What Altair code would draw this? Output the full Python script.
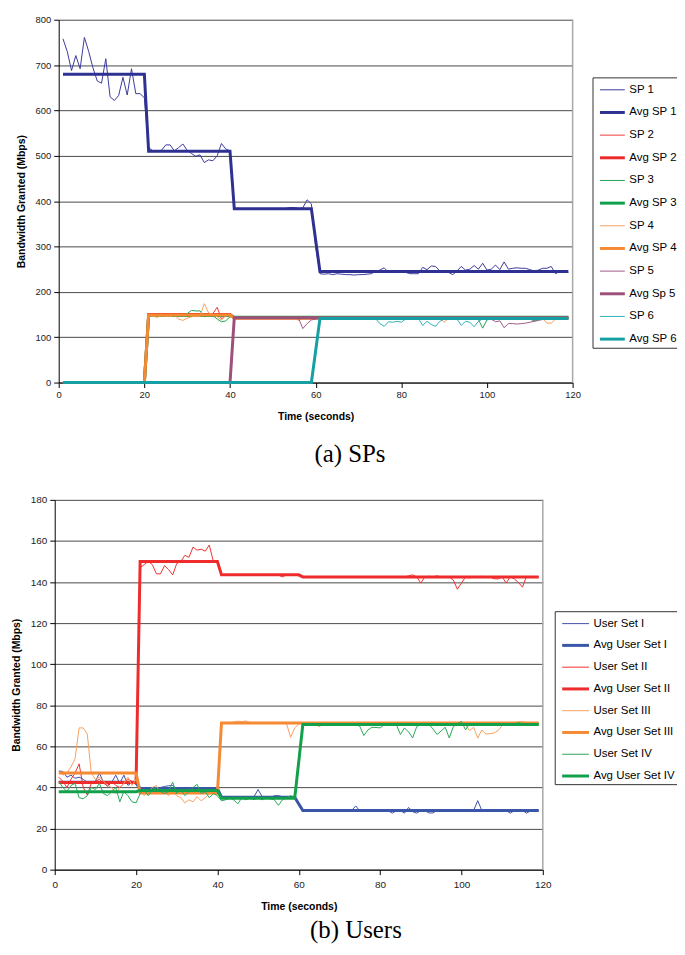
import altair as alt
import pandas as pd

t = list(range(1, 120))

# ---------------- Panel (a): SPs ----------------
top_names = ["SP 1", "Avg SP 1", "SP 2", "Avg SP 2", "SP 3", "Avg SP 3",
             "SP 4", "Avg SP 4", "SP 5", "Avg Sp 5", "SP 6", "Avg SP 6"]
top_colors = ["#3a3a9c", "#2e3192", "#ee3a3a", "#ee2a2a", "#22a055", "#0e9f4a",
              "#f7a060", "#f58a32", "#a05a86", "#9e4f7b", "#30b0b8", "#16a0a4"]
top_widths = [1, 3, 1, 3, 1, 3, 1, 3, 1, 3, 1, 3]

sp1 = [758, 730, 688, 721, 692, 761, 730, 694, 665, 660, 714, 630, 622, 633, 673, 634, 692, 637, 637, 628,
       518, 511, 511, 512, 524, 524, 511, 518, 526, 512, 505, 499, 502, 485, 491, 489, 500, 527, 515, 511,
       384, 383, 383, 382, 383, 383, 384, 383, 383, 382, 383, 383, 384, 386, 386, 384, 385, 403, 394, 300,
       240, 239, 240, 238, 240, 239, 238, 238, 237, 238, 238, 239, 240, 245, 248, 253, 243, 246, 245, 244,
       243, 240, 240, 240, 254, 249, 257, 256, 246, 245, 243, 238, 246, 256, 248, 250, 258, 250, 263, 248,
       250, 259, 249, 266, 250, 252, 253, 252, 252, 249, 246, 248, 252, 252, 256, 240, 245, 244, 243]
avg_sp1 = [680] * 20 + [510] * 20 + [383] * 19 + [314] + [245] * 59

sp2 = [0] * 20 + [147, 149, 148, 146, 149, 150, 148, 147, 150, 149, 150, 152, 151, 149, 150, 152, 166, 140, 148, 147,
                  143, 143, 144, 143, 143, 142, 143, 144, 143, 143, 143, 142, 143, 143, 144, 143, 142, 143, 143, 143,
                  143, 144, 143, 143, 142, 143, 144, 143, 143, 142, 143, 143, 144, 143, 143, 142, 143, 143, 144, 143,
                  143, 142, 143, 143, 144, 143, 143, 142, 143, 143, 144, 143, 143, 142, 143, 143, 144, 143, 142, 143,
                  143, 144, 143, 143, 142, 143, 143, 144, 143, 143, 142, 143, 143, 144, 143, 143, 142, 143, 143]
avg_sp2 = [0] * 20 + [150] * 20 + [143] * 79

sp3 = [0] * 20 + [146, 148, 147, 149, 148, 147, 146, 148, 150, 152, 159, 158, 158, 145, 150, 148, 140, 134, 136, 145,
                  145, 144, 145, 144, 145, 144, 145, 145, 144, 145, 144, 145, 144, 145, 144, 145, 144, 145, 144, 144,
                  143, 143, 144, 143, 142, 143, 143, 144, 143, 143, 143, 142, 143, 143, 143, 142, 143, 144, 143, 142,
                  143, 143, 144, 143, 143, 142, 143, 143, 143, 144, 143, 142, 143, 143, 144, 143, 142, 139, 120, 138,
                  142, 143, 143, 142, 143, 143, 142, 143, 142, 140, 136, 138, 142, 143, 143, 142, 143, 143, 142]
avg_sp3 = [0] * 20 + [148] * 20 + [144] * 79

sp4 = [0] * 20 + [148, 146, 144, 147, 146, 145, 149, 140, 137, 142, 145, 146, 146, 174, 154, 150, 145, 138, 147, 150,
                  143, 143, 142, 143, 143, 142, 143, 143, 142, 143, 143, 142, 143, 143, 142, 137, 141, 143, 142, 143,
                  142, 143, 142, 143, 142, 143, 142, 142, 143, 142, 143, 142, 142, 143, 142, 143, 142, 143, 142, 142,
                  143, 142, 143, 142, 142, 143, 142, 143, 142, 133, 141, 142, 143, 142, 142, 143, 142, 143, 142, 142,
                  143, 142, 142, 143, 142, 142, 143, 142, 142, 143, 142, 142, 141, 131, 131, 140, 142, 143, 142]
avg_sp4 = [0] * 20 + [149] * 20 + [142] * 79

sp5 = [0] * 40 + [142, 143, 142, 143, 143, 142, 143, 143, 142, 143, 143, 142, 143, 142, 143, 142, 119, 130, 138, 140,
                  142, 143, 143, 142, 143, 143, 142, 143, 142, 143, 143, 142, 143, 143, 142, 143, 143, 142, 143, 143,
                  142, 143, 143, 142, 143, 143, 142, 143, 143, 142, 143, 143, 142, 143, 143, 142, 143, 142, 143, 142,
                  140, 134, 136, 121, 130, 130, 129, 130, 131, 133, 135, 137, 139, 141, 142, 143, 142, 143, 142]
avg_sp5 = [0] * 40 + [143] * 79

sp6 = [0] * 59 + [70] + [140, 141, 142, 141, 140, 141, 142, 141, 140, 141,
                         142, 141, 140, 141, 130, 124, 134, 133, 135, 133,
                         140, 141, 142, 141, 126, 135, 128, 124, 135, 140,
                         141, 142, 140, 126, 135, 133, 123, 135, 140, 141,
                         142, 141, 140, 141, 142, 141, 140, 141, 142, 141,
                         140, 141, 142, 141, 140, 141, 142, 141, 140]
avg_sp6 = [0] * 59 + [70] + [141] * 59

top_values = [sp1, avg_sp1, sp2, avg_sp2, sp3, avg_sp3, sp4, avg_sp4, sp5, avg_sp5, sp6, avg_sp6]
top_y_ticks = [0, 100, 200, 300, 400, 500, 600, 700, 800]

# ---------------- Panel (b): Users ----------------
bot_names = ["User Set I", "Avg User Set I", "User Set II", "Avg User Set II",
             "User Set III", "Avg User Set III", "User Set IV", "Avg User Set IV"]
bot_colors = ["#4050a8", "#3a56a8", "#ee3030", "#ee2c2c", "#f7a060", "#f58a32", "#2aa85a", "#12a04a"]
bot_widths = [1, 3, 1, 3, 1, 3, 1, 3]

u1 = [48, 47.8, 45, 46, 44.5, 45, 44, 42.5, 42, 43, 47, 42.5, 40.5, 42.5, 46, 42, 46, 41, 42.5, 41.5,
      38, 39, 39.5, 40, 39, 40, 40.5, 40.8, 41, 39, 39.5, 40, 39, 39.5, 40, 39.5, 40, 39, 39.5, 40,
      35, 35.5, 35, 35.3, 35, 35.5, 35.3, 35, 35.5, 39, 35.5, 35.3, 35, 36, 36, 35.5, 35.3, 35.5, 35.3, 32,
      28.8, 28.5, 28.7, 28.9, 28.6, 28.8, 28.9, 28.7, 28.5, 28.8, 28.9, 28.7, 28.8, 31.0, 28.6, 28.8, 28.7, 28.5, 28.8, 28.9,
      28.8, 28.6, 27.5, 28.7, 28.8, 27.5, 30.3, 28.2, 27.5, 28.8, 28.7, 27.6, 27.6, 28.8, 28.9, 28.7, 28.8, 28.6, 28.9, 28.8,
      28.9, 29.1, 28.8, 33.6, 28.8, 28.7, 28.9, 28.8, 28.6, 28.9, 28.8, 27.5, 28.7, 28.9, 28.8, 27.5, 28.6, 28.9, 28.7]
avg_u1 = [42.5] * 20 + [39.5] * 20 + [35.3] * 19 + [32] + [28.8] * 59

u2 = [45, 43, 40, 44, 47, 51.5, 40, 36.4, 42, 43, 44, 42, 41, 43, 41, 40, 42, 44, 43, 42,
      147, 148.5, 150, 148.5, 144, 144, 148, 146, 143.5, 149, 150, 153, 152, 157, 155.5, 156, 155, 158, 150, 150,
      143.5, 143.5, 143.6, 143.5, 143.4, 143.5, 143.6, 143.5, 143.5, 143.4, 143.5, 143.5, 143.6, 143.5, 143.4, 142.5, 143.5, 143.5, 143.5, 143,
      142.5, 142.5, 142.6, 142.5, 142.4, 142.5, 142.6, 142.5, 142.5, 142.6, 142.5, 142.5, 142.6, 142.5, 142.5, 142.4, 142.5, 142.5, 142.6, 142.5,
      142.5, 142.6, 142.5, 142.5, 142.4, 142.5, 143.0, 143.5, 142.5, 139.5, 142.5, 142.8, 142.6, 143.0, 142.5, 142.6, 142.4, 141.0, 136.5, 139.5,
      142.5, 142.0, 142.6, 142.3, 142.8, 142.5, 142.5, 141.6, 141.5, 142.5, 139.5, 142.6, 141.5, 139.8, 137.5, 142.8, 142.5, 142.6, 142.5]
avg_u2 = [42.4] * 20 + [150] * 20 + [143.5] * 20 + [142.5] * 59

u3 = [48, 46, 47, 50, 54, 69, 69, 66, 47, 44, 45, 43, 41, 40, 37, 40, 42, 45, 41, 44,
      39, 36, 38, 40, 41, 37, 38, 36, 38, 36, 35, 32.5, 34, 33, 35.5, 33.5, 35, 37, 38, 36.5,
      71.4, 71.5, 71.6, 71.8, 72.3, 72, 72.4, 71.6, 71.5, 71.4, 71.6, 71.5, 71.4, 71.5, 71.3, 71.3, 71.0, 64.4, 69, 70.8,
      71.4, 71.5, 71.6, 71.2, 69.5, 71.0, 71.5, 71.4, 71.6, 71.5, 71.5, 71.6, 71.4, 71.5, 71.6, 71.5, 71.4, 71.6, 71.5, 71.4,
      71.5, 71.6, 71.5, 71.4, 71.5, 71.6, 71.4, 71.5, 71.6, 71.5, 71.4, 71.5, 71.6, 71.5, 71.4, 71.5, 71.6, 71.5, 71.4, 71.5,
      70.5, 67.7, 69.3, 64.0, 68.0, 66.0, 66.2, 66.5, 67.7, 70.1, 71.5, 71.6, 71.5, 71.8, 72.0, 71.5, 71.6, 71.5, 71.6]
avg_u3 = [47.1] * 20 + [37.3] * 20 + [71.4] * 79

u4 = [43, 40, 38, 41, 42, 35, 34.5, 36, 40, 39, 42, 37, 36, 38, 40, 33, 38, 36, 33, 32.5,
      37, 39, 36, 39, 40, 38, 37, 38, 42.6, 37, 39, 36, 38, 40, 41.5, 37, 38, 35, 37, 36,
      33.5, 34, 35, 34, 32, 35, 34, 35, 34, 35, 34, 35, 34.5, 34, 31.3, 34, 35, 36, 35, 52,
      70.6, 70.8, 71.0, 70.7, 70.9, 70.8, 71.2, 70.9, 70.7, 70.8, 70.9, 71.0, 70.8, 70.7, 69.8, 65.3, 68.0, 69.3, 69.2, 69.0,
      70.5, 70.8, 71.0, 70.6, 65.8, 69.0, 67.0, 64.1, 69.6, 70.8, 71.0, 70.7, 68.5, 65.8, 67.5, 69.3, 64.1, 69.6, 71.0, 72.2,
      68.0, 71.0, 71.0, 71.2, 70.9, 71.0, 70.8, 71.1, 71.0, 70.9, 71.2, 71.0, 70.9, 71.6, 71.0, 70.8, 71.1, 71.0, 70.9]
avg_u4 = [37.9] * 20 + [38.5] * 20 + [34.7] * 19 + [52.6] + [70.6] * 59

bot_values = [u1, avg_u1, u2, avg_u2, u3, avg_u3, u4, avg_u4]
bot_y_ticks = [0, 20, 40, 60, 80, 100, 120, 140, 160, 180]

x_ticks = [0, 20, 40, 60, 80, 100, 120]
x_max = [120]


def long_frame(names, values):
    rows = []
    for i, (n, vals) in enumerate(zip(names, values)):
        assert len(vals) == len(t), (n, len(vals))
        for tt, v in zip(t, vals):
            rows.append({"t": tt, "v": v, "series": n, "k": i})
    return pd.DataFrame(rows)


def panel(names, values, colors, widths, ymax, yticks, w, h, x_range, y_offset,
          legend_x, legend_y, sym_path, row_pad, sym_off, lab_off,
          x_lab_pad, x_title_pad, label_size, caption, cap_dx, cap_off):
    df = long_frame(names, values)
    x = alt.X("t:Q", scale=alt.Scale(domain=[0, 120], nice=False, zero=False, range=x_range),
              axis=alt.Axis(values=x_ticks, title="Time (seconds)", grid=False, tickSize=5,
                            labelPadding=x_lab_pad, titlePadding=x_title_pad, labelFontSize=label_size,
                            titleFontSize=10.5, titleFontWeight="bold", labelFlush=False))
    y = alt.Y("v:Q", scale=alt.Scale(domain=[0, ymax], nice=False),
              axis=alt.Axis(values=yticks, title="Bandwidth Granted (Mbps)", grid=True,
                            gridColor="#4a4a4a", gridWidth=1, tickSize=5, labelPadding=3,
                            titlePadding=9, labelFontSize=label_size, offset=y_offset,
                            titleFontSize=10.5, titleFontWeight="bold"))
    legend = alt.Legend(orient="none", legendX=legend_x, legendY=legend_y, title=None,
                        strokeColor="#333333", fillColor="white", padding=2,
                        symbolType=sym_path, symbolSize=400, rowPadding=row_pad,
                        symbolOffset=sym_off, labelOffset=lab_off, labelFontSize=11.5,
                        labelFont="Liberation Sans", labelColor="black", labelLimit=300)
    color = alt.Color("series:N", scale=alt.Scale(domain=names, range=colors), legend=legend)
    sw = alt.StrokeWidth("series:N", scale=alt.Scale(type="ordinal", domain=names, range=widths),
                         legend=legend)
    border = alt.Chart(pd.DataFrame({"t": x_max})).mark_rule(
        color="#a8a8a8", strokeWidth=1.5).encode(x=x)
    layers = [border]
    for n in names:
        layers.append(
            alt.Chart(df).transform_filter(alt.datum.series == n)
            .mark_line(strokeJoin="miter", interpolate="linear")
            .encode(x=x, y=y, color=color, strokeWidth=sw, order="t:Q")
        )
    return alt.layer(*layers).properties(
        width=w, height=h,
        title=alt.TitleParams(text=caption, orient="bottom", anchor="middle", frame="group",
                              dx=cap_dx, offset=cap_off, font="Liberation Serif", fontSize=25,
                              fontWeight="normal", color="black"))


# top plot: group origin shared with the lower plot, data area starts 4px further right
top = panel(top_names, top_values, top_colors, top_widths, 800, top_y_ticks, 521, 365,
            [4, 521], -4, 541, 58, "M-1.25,0H1.25", 5.8, 6.5, 5.5,
            2, 13, 9.5, "(a) SPs", 36.5, 20)
bottom = panel(bot_names, bot_values, bot_colors, bot_widths, 180, bot_y_ticks, 491, 372,
               [0, 491], 0, 503, 112, "M-1.35,0H1.35", 4.9, 7.5, 6.5,
               5, 12, 10, "(b) Users", 57.5, 6)

chart = alt.vconcat(top, bottom, spacing=28).properties(
    padding={"left": 3, "top": 4, "right": -3, "bottom": -2},
    background="white",
).configure_view(
    strokeWidth=0
).configure_axis(
    labelFont="Liberation Sans", titleFont="Liberation Sans", labelColor="#222222",
    titleColor="black", domainColor="black", tickColor="black", domainWidth=1
).resolve_scale(color="independent", strokeWidth="independent")

chart.save("out.html", embed_options={"renderer": "svg", "actions": False})
